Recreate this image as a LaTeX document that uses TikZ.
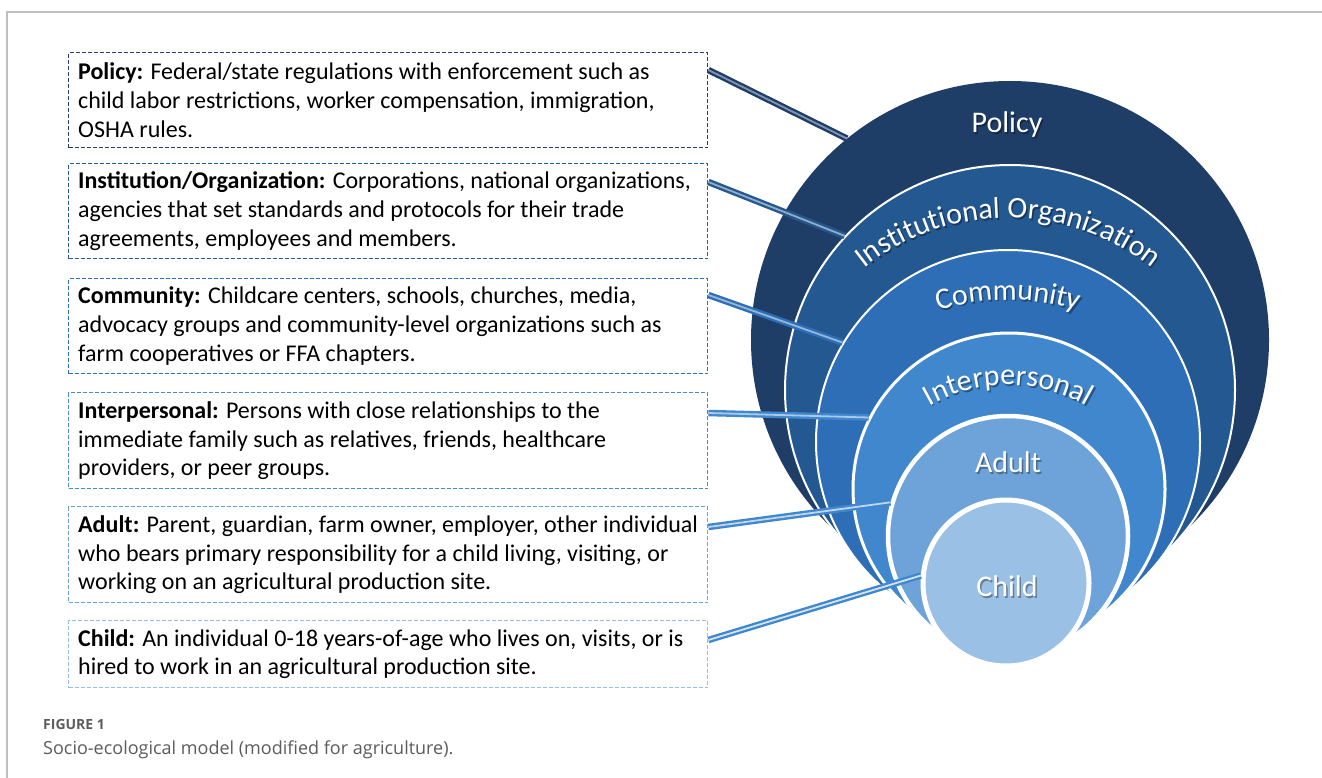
\documentclass[tikz,border=0pt]{standalone}
\usepackage{fontspec}
\setmainfont{Carlito}
\newfontfamily\capfont{Open Sans}
\usetikzlibrary{decorations.text,calc}

\definecolor{lvA}{RGB}{30,62,104}
\definecolor{lvB}{RGB}{36,88,145}
\definecolor{lvC}{RGB}{45,110,182}
\definecolor{lvD}{RGB}{64,135,205}
\definecolor{lvE}{RGB}{110,163,217}
\definecolor{lvF}{RGB}{155,192,230}
\definecolor{bdA}{RGB}{35,65,108}
\definecolor{bdB}{RGB}{40,92,152}
\definecolor{bdC}{RGB}{48,112,182}
\definecolor{bdD}{RGB}{72,140,205}
\definecolor{bdE}{RGB}{105,160,215}
\definecolor{bdF}{RGB}{150,190,230}
\definecolor{framegray}{RGB}{190,190,190}
\definecolor{captxt}{RGB}{92,92,92}

\newcommand\ringfont{\fontsize{30}{36}\selectfont}
% curved ring title: centre x, centre y, radius, text
\newcommand\ringarc[4]{%
  \begin{scope}[fill opacity=0.35]
    \path[decorate, decoration={text along path, text align=center,
      text={|\color{black}\ringfont|#4}}]
      (#1+1.5,#2-1.8) ++(165:#3) arc[start angle=165, end angle=15, radius=#3];
  \end{scope}
  \path[decorate, decoration={text along path, text align=center,
    text={|\color{white}\ringfont|#4}}]
    (#1,#2) ++(165:#3) arc[start angle=165, end angle=15, radius=#3];
}

\begin{document}
\begin{tikzpicture}[x=1pt,y=1pt,
  defbox/.style={draw, dash pattern=on 4pt off 2pt, line width=1.4pt,
    fill=white, minimum width=639pt, anchor=north west, inner sep=0pt},
  deftext/.style={anchor=west, align=left, inner sep=0pt,
    font=\fontsize{24}{28.8}\selectfont},
  ring/.style={circle, inner sep=0pt, draw=white},
  ringlabel/.style={text=white, font=\ringfont, inner sep=0pt},
  ringshadow/.style={text=black, text opacity=0.35, font=\ringfont, inner sep=0pt},
  tube/.style={line width=6.5pt},
  shine/.style={line width=1.8pt}]

\useasboundingbox (0,0) rectangle (1322,-778);
\fill[white] (0,0) rectangle (1322,-778);

% page frame
\draw[framegray, line width=2.4pt] (7,-778) -- (7,-12) -- (1322,-12);

% description boxes
\node[defbox, draw=bdA, minimum height=95pt] (b1) at (68,-52) {};
\node[defbox, draw=bdB, minimum height=95pt] (b2) at (68,-163) {};
\node[defbox, draw=bdC, minimum height=95pt] (b3) at (68,-278) {};
\node[defbox, draw=bdD, minimum height=96pt] (b4) at (68,-392) {};
\node[defbox, draw=bdE, minimum height=96pt] (b5) at (68,-506) {};
\node[defbox, draw=bdF, minimum height=67pt] (b6) at (68,-620) {};

\node[deftext] (t1) at ([xshift=10pt]b1.west)
  {\textbf{Policy:} Federal/state regulations with enforcement such as\\
   child labor restrictions, worker compensation, immigration,\\
   OSHA rules.};
\node[deftext] (t2) at ([xshift=10pt]b2.west)
  {\textbf{Institution/Organization:} Corporations, national organizations,\\
   agencies that set standards and protocols for their trade\\
   agreements, employees and members.};
\node[deftext] (t3) at ([xshift=10pt]b3.west)
  {\textbf{Community:} Childcare centers, schools, churches, media,\\
   advocacy groups and community-level organizations such as\\
   farm cooperatives or FFA chapters.};
\node[deftext] (t4) at ([xshift=10pt]b4.west)
  {\textbf{Interpersonal:} Persons with close relationships to the\\
   immediate family such as relatives, friends, healthcare\\
   providers, or peer groups.};
\node[deftext] (t5) at ([xshift=10pt]b5.west)
  {\textbf{Adult:} Parent, guardian, farm owner, employer, other individual\\
   who bears primary responsibility for a child living, visiting, or\\
   working on an agricultural production site.};
\node[deftext] (t6) at ([xshift=10pt]b6.west)
  {\textbf{Child:} An individual 0-18 years-of-age who lives on, visits, or is\\
   hired to work in an agricultural production site.};

% nested circles of the model
\node[ring, fill=lvA, draw=none, minimum size=518pt] (cA) at (1010,-340) {};
\node[ring, fill=lvB, line width=2pt, minimum size=450pt] (cB) at (1010,-390) {};
\node[ring, fill=lvC, line width=2pt, minimum size=384pt] (cC) at (1008,-442) {};
\node[ring, fill=lvD, line width=3pt, minimum size=312pt] (cD) at (1009,-489) {};
\node[ring, fill=lvE, line width=4.5pt, minimum size=240pt] (cE) at (1008,-536) {};
\node[ring, fill=lvF, line width=5pt, minimum size=166pt] (cF) at (1006,-583) {};

% connectors from each box to its circle
\draw[tube, lvA] ([yshift=-18pt]b1.north east) -- (cA.129.6);
\draw[shine, lvA!55!white] ([yshift=-18pt]b1.north east) -- (cA.129.6);
\draw[tube, lvB] ([yshift=-19pt]b2.north east) -- (cB.137.6);
\draw[shine, lvB!50!white] ([yshift=-19pt]b2.north east) -- (cB.137.6);
\draw[tube, lvC] ([yshift=-17pt]b3.north east) -- (cC.149.5);
\draw[shine, lvC!50!white] ([yshift=-17pt]b3.north east) -- (cC.149.5);
\draw[tube, lvD] ([yshift=-21pt]b4.north east) -- (cD.153.3);
\draw[shine, lvD!45!white] ([yshift=-21pt]b4.north east) -- (cD.153.3);
\draw[tube, lvD] ([yshift=-21pt]b5.north east) -- (cE.164.4);
\draw[shine, lvE!45!white] ([yshift=-21pt]b5.north east) -- (cE.164.4);
\draw[tube, lvD] ([yshift=-20pt]b6.north east) -- (cF.175);
\draw[shine, lvF!45!white] ([yshift=-20pt]b6.north east) -- (cF.175);

% ring titles
\node[ringshadow] at (1008.5,-126.8) {Policy};
\node[ringlabel] (lA) at (1007,-125) {Policy};
\ringarc{1008}{-450}{232}{Institutional Organization}
\ringarc{1008}{-540}{240}{Community}
\ringarc{1008}{-542}{157}{Interpersonal}
\node[ringshadow] at (1009.5,-463.8) {Adult};
\node[ringlabel] (lE) at (1008,-462) {Adult};
\node[ringshadow] at (1008.5,-587.8) {Child};
\node[ringlabel] (lF) at (1007,-586) {Child};

% caption
\node[anchor=base west, inner sep=0pt, text=captxt,
  font=\capfont\bfseries\fontsize{14}{17}\selectfont] (fig) at (43,-729) {FIGURE 1};
\node[anchor=base west, inner sep=0pt, text=captxt,
  font=\capfont\fontsize{18}{22}\selectfont] (cap) at (43,-754)
  {Socio-ecological model (modified for agriculture).};
\end{tikzpicture}
\end{document}
